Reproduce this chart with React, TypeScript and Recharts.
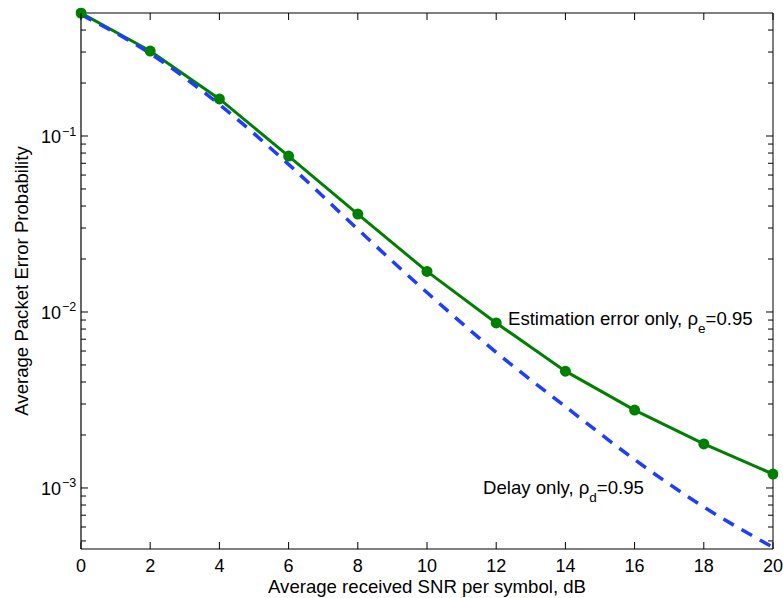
import React from "react";
import { LineChart, Line, XAxis, YAxis } from "recharts";

const snrDb = [0, 2, 4, 6, 8, 10, 12, 14, 16, 18, 20];
const estimationErrorOnly = [0.5, 0.304, 0.1625, 0.0769, 0.036, 0.017, 0.00866, 0.00461, 0.00277, 0.00178, 0.0012];
const delayOnly = [0.49, 0.294, 0.151, 0.069, 0.0295, 0.0129, 0.0059, 0.0029, 0.00145, 0.00078, 0.00046];

const xTicks = [0, 2, 4, 6, 8, 10, 12, 14, 16, 18, 20];
const yMajorTicks = [0.001, 0.01, 0.1];
const yExponents = ["\u22123", "\u22122", "\u22121"];
const yMinorTicks = [
  0.0005, 0.0006, 0.0007, 0.0008, 0.0009,
  0.002, 0.003, 0.004, 0.005, 0.006, 0.007, 0.008, 0.009,
  0.02, 0.03, 0.04, 0.05, 0.06, 0.07, 0.08, 0.09,
  0.2, 0.3, 0.4,
];
const yDomain = [0.00045, 0.5];

const data = snrDb.map((s, i) => ({
  snr: s,
  est: estimationErrorOnly[i],
  delay: delayOnly[i],
}));

const FONT = "'Liberation Sans', Arial, Helvetica, sans-serif";
const FS = 18.6;
const allYTicks = [...yMajorTicks, ...yMinorTicks].sort((a, b) => a - b);

const isMajor = (v: number) => yMajorTicks.some((m) => Math.abs(m - v) / m < 1e-6);

const LeftTick = (props: any) => {
  const { x, y, payload } = props;
  const v = payload.value;
  if (isMajor(v)) {
    const idx = yMajorTicks.findIndex((m) => Math.abs(m - v) / m < 1e-6);
    return (
      <g>
        <line x1={x} y1={y} x2={x + 7} y2={y} stroke="#000" strokeWidth={1} />
        <text x={x - 20} y={y + 7} textAnchor="end" fontSize={18} fontFamily={FONT} fill="#000">10</text>
        <text x={x - 19} y={y - 0.5} textAnchor="start" fontSize={12.5} fontFamily={FONT} fill="#000">{yExponents[idx]}</text>
      </g>
    );
  }
  return <line x1={x} y1={y} x2={x + 5} y2={y} stroke="#000" strokeWidth={1} />;
};

const RightTick = (props: any) => {
  const { x, y, payload } = props;
  const len = isMajor(payload.value) ? 7 : 5;
  return <line x1={x} y1={y} x2={x - len} y2={y} stroke="#000" strokeWidth={1} />;
};

const BottomTick = (props: any) => {
  const { x, y, payload } = props;
  return (
    <g>
      <line x1={x} y1={y} x2={x} y2={y - 7} stroke="#000" strokeWidth={1} />
      <text x={x} y={y + 23} textAnchor="middle" fontSize={18} fontFamily={FONT} fill="#000">{payload.value}</text>
    </g>
  );
};

const TopTick = (props: any) => {
  const { x, y } = props;
  return <line x1={x} y1={y} x2={x} y2={y + 7} stroke="#000" strokeWidth={1} />;
};

const GREEN = "#008000";
const BLUE = "#1f3dff";

export default function App() {
  return (
    <div style={{ position: "absolute", left: 0, top: 0, width: 783, height: 598, background: "#fff" }}>
      <LineChart
        width={783}
        height={598}
        data={data}
        margin={{ top: 12, right: 9, bottom: 0, left: 0 }}
      >
        <XAxis
          xAxisId="bottom"
          dataKey="snr"
          type="number"
          domain={[0, 20]}
          ticks={xTicks}
          orientation="bottom"
          height={49}
          tickSize={0}
          tickMargin={0}
          tickLine={false}
          axisLine={{ stroke: "#000", strokeWidth: 1.2 }}
          tick={<BottomTick />}
          interval={0}
          allowDataOverflow
        />
        <XAxis
          xAxisId="top"
          dataKey="snr"
          type="number"
          domain={[0, 20]}
          ticks={xTicks}
          orientation="top"
          height={1}
          tickSize={0}
          tickMargin={0}
          tickLine={false}
          axisLine={{ stroke: "#000", strokeWidth: 1 }}
          tick={<TopTick />}
          interval={0}
          allowDataOverflow
        />
        <YAxis
          yAxisId="left"
          type="number"
          scale="log"
          domain={yDomain}
          ticks={allYTicks}
          orientation="left"
          width={81}
          tickSize={0}
          tickMargin={0}
          tickLine={false}
          axisLine={{ stroke: "#000", strokeWidth: 1.2 }}
          tick={<LeftTick />}
          interval={0}
          allowDataOverflow
        />
        <YAxis
          yAxisId="right"
          type="number"
          scale="log"
          domain={yDomain}
          ticks={allYTicks}
          orientation="right"
          width={1}
          tickSize={0}
          tickMargin={0}
          tickLine={false}
          axisLine={{ stroke: "#000", strokeWidth: 1 }}
          tick={<RightTick />}
          interval={0}
          allowDataOverflow
        />
        <Line
          xAxisId="bottom"
          yAxisId="left"
          type="linear"
          dataKey="est"
          stroke={GREEN}
          strokeWidth={3}
          dot={{ r: 5.5, fill: GREEN, stroke: GREEN, strokeWidth: 0, clipDot: false }}
          activeDot={false}
          isAnimationActive={false}
        />
        <Line
          xAxisId="bottom"
          yAxisId="left"
          type="monotone"
          dataKey="delay"
          stroke={BLUE}
          strokeWidth={3.5}
          strokeDasharray="12 9"
          dot={false}
          activeDot={false}
          isAnimationActive={false}
        />
        <text x={427} y={593} textAnchor="middle" fontSize={FS} fontFamily={FONT} fill="#000">
          Average received SNR per symbol, dB
        </text>
        <text
          x={28}
          y={281}
          transform="rotate(-90, 28, 281)"
          textAnchor="middle"
          fontSize={FS}
          fontFamily={FONT}
          fill="#000"
        >
          Average Packet Error Probability
        </text>
        <text x={508} y={325} fontSize={FS} fontFamily={FONT} fill="#000">
          Estimation error only, ρ
          <tspan dy={8} fontSize={13.5}>e</tspan>
          <tspan dy={-8}>=0.95</tspan>
        </text>
        <text x={483} y={494} fontSize={FS} fontFamily={FONT} fill="#000">
          Delay only, ρ
          <tspan dy={8} fontSize={13.5}>d</tspan>
          <tspan dy={-8}>=0.95</tspan>
        </text>
      </LineChart>
    </div>
  );
}
